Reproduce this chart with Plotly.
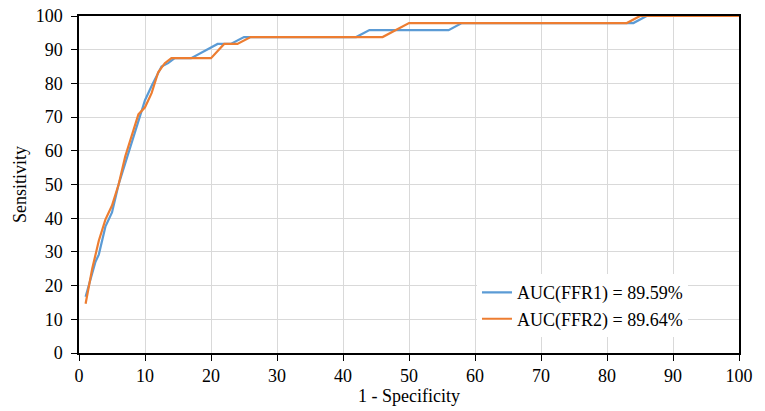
import plotly.graph_objects as go

x_ffr1 = [1, 2.5, 3, 4, 5, 6, 7, 8, 9, 10, 11, 12.5, 13.5, 14.5, 17, 19, 21, 23, 25, 42, 44, 56, 58, 84, 86, 100]
y_ffr1 = [16.7, 27.1, 29.2, 37.5, 41.7, 50, 56.25, 62.5, 68.75, 75, 79.2, 85.0, 86.0, 87.5, 87.5, 89.6, 91.7, 91.7, 93.75, 93.75, 95.8, 95.8, 97.9, 97.9, 100, 100]

x_ffr2 = [1, 2, 3, 4, 5, 6, 7, 8, 9, 10, 11, 12, 13, 14, 20, 22, 24, 26, 46, 50, 83, 85, 100]
y_ffr2 = [14.6, 25, 33.3, 39.6, 43.75, 50, 58.3, 64.6, 70.8, 72.9, 77.1, 83.3, 86.0, 87.5, 87.5, 91.7, 91.7, 93.75, 93.75, 97.9, 97.9, 100, 100]

names = ["AUC(FFR1) = 89.59%", "AUC(FFR2) = 89.64%"]
tick_vals = list(range(0, 101, 10))

fig = go.Figure()
fig.add_trace(go.Scatter(x=x_ffr1, y=y_ffr1, mode="lines", name=names[0],
                         line=dict(color="#5B9BD5", width=2.2)))
fig.add_trace(go.Scatter(x=x_ffr2, y=y_ffr2, mode="lines", name=names[1],
                         line=dict(color="#ED7D31", width=2.2)))

font = dict(family="Liberation Serif", size=18, color="#000")
axis_common = dict(range=[0, 100], tickvals=tick_vals, showgrid=True, gridcolor="#d9d9d9",
                   gridwidth=1, showline=True, linecolor="#000", linewidth=1.5, mirror=True,
                   ticks="outside", ticklen=6, tickcolor="#000", zeroline=False,
                   tickfont=font, title_font=font, automargin=False,
                   ticklabeloverflow="allow")

fig.update_layout(
    width=765, height=411,
    margin=dict(l=79, r=26, t=16, b=58),
    paper_bgcolor="white", plot_bgcolor="white",
    font=font,
    xaxis=dict(title=dict(text="1 - Specificity", standoff=3), **axis_common),
    yaxis=dict(title=dict(text="Sensitivity", standoff=4), ticklabelstandoff=5, **axis_common),
    legend=dict(x=0.603, y=0.234, xanchor="left", yanchor="top", bgcolor="white",
                font=dict(family="Liberation Serif", size=18, color="#000"),
                itemwidth=30),
    showlegend=True,
)

fig.write_html("out.html", config={"displayModeBar": False},
               post_script="document.body.style.margin='0';document.body.style.padding='0';")
